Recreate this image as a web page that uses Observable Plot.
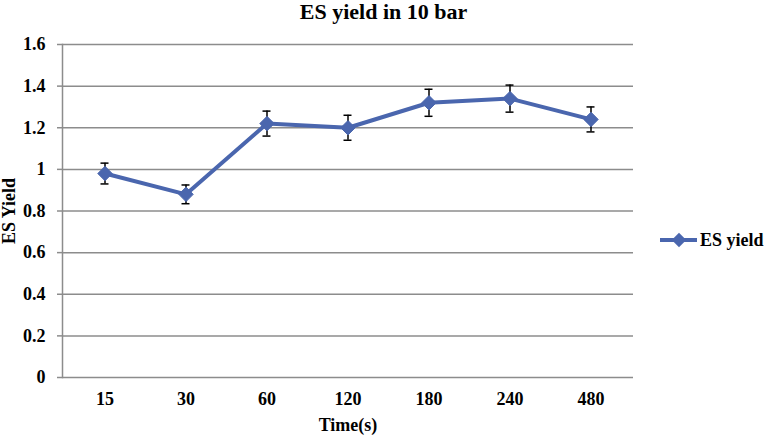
<!DOCTYPE html>
<html>
<head>
<meta charset="utf-8">
<script src="https://cdn.jsdelivr.net/npm/d3@7"></script>
<script src="https://cdn.jsdelivr.net/npm/@observablehq/plot@0.6"></script>
<style>
  body { margin: 0; background: white; }
  #wrap { position: relative; width: 767px; height: 436px; font-family: "Liberation Serif", "DejaVu Serif", serif; font-weight: bold; }
  #title { position: absolute; left: 0; width: 767px; top: 0px; text-align: center; font-size: 22px; line-height: 24px; }
  #legend { position: absolute; left: 659px; top: 230px; display: flex; align-items: center; font-size: 18px; line-height: 20px; }
  #chart { position: absolute; left: 0; top: 0; }
</style>
</head>
<body>
<div id="wrap">
  <div id="chart"></div>
  <div id="title">ES yield in 10 bar</div>
  <div id="legend"></div>
</div>
<script>
const times = ["15", "30", "60", "120", "180", "240", "480"];
const yieldValues = [0.98, 0.88, 1.22, 1.20, 1.32, 1.34, 1.24];
const errors = [0.05, 0.045, 0.06, 0.06, 0.065, 0.065, 0.06];
const yTicks = [0, 0.2, 0.4, 0.6, 0.8, 1, 1.2, 1.4, 1.6];
const seriesName = "ES yield";
const lineColor = "#4a66ae";
const gridColor = "#8c8c8c";
const font = {fontFamily: "Liberation Serif, DejaVu Serif, serif", fontWeight: "bold", fontSize: 18};

const data = times.map((t, i) => ({t, v: yieldValues[i], e: errors[i]}));

const chart = Plot.plot({
  width: 767,
  height: 436,
  marginLeft: 62,
  marginRight: 134,
  marginTop: 44,
  marginBottom: 59,
  style: {fontFamily: "Liberation Serif, DejaVu Serif, serif", fontWeight: "bold", fontSize: "18px", background: "transparent", color: "black"},
  x: {type: "band", domain: times, padding: 0},
  y: {domain: [0, 1.6]},
  marks: [
    Plot.ruleY(yTicks, {stroke: gridColor, strokeWidth: 1.5, strokeOpacity: 1}),
    Plot.axisY({...font, ticks: yTicks, tickFormat: d => String(d), tickSize: 5, tickPadding: 12, stroke: gridColor, strokeWidth: 1.5, strokeOpacity: 1, fill: "black", label: "ES Yield", labelAnchor: "center", labelOffset: 60, labelArrow: "none"}),
    Plot.axisX({...font, tickSize: 0, tickPadding: 15, fill: "black", label: "Time(s)", labelAnchor: "center", labelOffset: 53, labelArrow: "none"}),
    Plot.frame({anchor: "left", stroke: gridColor, strokeWidth: 1.5}),
    Plot.ruleX(data, {x: "t", y1: d => d.v - d.e, y2: d => d.v + d.e, stroke: "black", strokeWidth: 1.5}),
    Plot.tickY(data, {x: "t", y: d => d.v - d.e, stroke: "black", strokeWidth: 1.5, insetLeft: 36.5, insetRight: 36.5}),
    Plot.tickY(data, {x: "t", y: d => d.v + d.e, stroke: "black", strokeWidth: 1.5, insetLeft: 36.5, insetRight: 36.5}),
    Plot.line(data, {x: "t", y: "v", stroke: lineColor, strokeWidth: 4}),
    Plot.dot(data, {x: "t", y: "v", symbol: "diamond2", r: 6.5, fill: lineColor, stroke: lineColor, strokeWidth: 1})
  ]
});
document.getElementById("chart").appendChild(chart);

// Legend
const legend = document.getElementById("legend");
const ns = "http://www.w3.org/2000/svg";
const sw = document.createElementNS(ns, "svg");
sw.setAttribute("width", 40);
sw.setAttribute("height", 20);
const ln = document.createElementNS(ns, "line");
ln.setAttribute("x1", 1); ln.setAttribute("x2", 38); ln.setAttribute("y1", 10); ln.setAttribute("y2", 10);
ln.setAttribute("stroke", lineColor); ln.setAttribute("stroke-width", 4);
sw.appendChild(ln);
const dm = document.createElementNS(ns, "path");
dm.setAttribute("d", d3.symbol(d3.symbolDiamond2, 6.5 * 6.5 * Math.PI)());
dm.setAttribute("transform", "translate(20,10)");
dm.setAttribute("fill", lineColor);
sw.appendChild(dm);
legend.appendChild(sw);
const lt = document.createElement("span");
lt.textContent = seriesName;
lt.style.marginLeft = "1px";
legend.appendChild(lt);
</script>
</body>
</html>
